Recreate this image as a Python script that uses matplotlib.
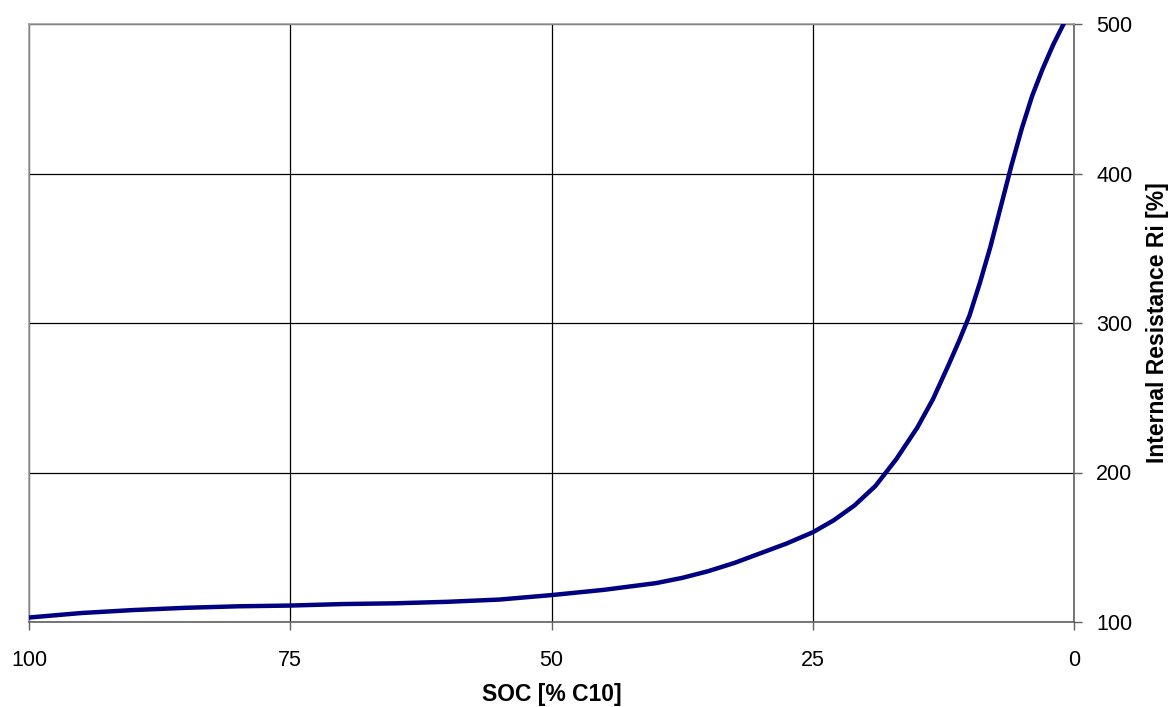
import matplotlib.pyplot as plt

plt.rcParams['font.family'] = ['Liberation Sans', 'DejaVu Sans']

# SOC [% C10] и внутреннее сопротивление Ri [%]
soc = [100, 95, 90, 85, 80, 75, 70, 65, 60, 55, 50, 45, 40, 37.5, 35, 32.5, 30,
       27.5, 25, 23, 21, 19, 17, 15, 13.5, 12, 11, 10, 9, 8, 7, 6, 5, 4, 3, 2,
       1, 0]
ri = [103, 106, 108, 109.5, 110.5, 111, 112, 112.5, 113.5, 115, 118, 121.5,
      126, 129.5, 134, 139.5, 146, 152.5, 160, 168, 178, 191, 209, 230, 249,
      272, 288, 305, 327, 351, 378, 405, 430, 452, 470, 486, 500, 515]

x_ticks = [100, 75, 50, 25, 0]
y_ticks = [100, 200, 300, 400, 500]

fig = plt.figure(figsize=(11.72, 7.07), dpi=100)
ax = fig.add_axes([29 / 1172, 1 - 622 / 707, (1074 - 29) / 1172, (622 - 24) / 707])

ax.plot(soc, ri, color="#000080", linewidth=3.2, solid_joinstyle="round",
        solid_capstyle="round", zorder=3)

ax.set_xlim(100, 0)
ax.set_ylim(100, 500)
ax.set_xticks(x_ticks)
ax.set_yticks(y_ticks)
ax.yaxis.tick_right()
ax.yaxis.set_label_position("right")

ax.grid(True, color="black", linewidth=0.9)
ax.set_axisbelow(True)

for side in ("left", "top"):
    ax.spines[side].set_color("#a0a0a0")
    ax.spines[side].set_linewidth(1.2)
for side in ("right", "bottom"):
    ax.spines[side].set_color("#606060")
    ax.spines[side].set_linewidth(1.2)

ax.tick_params(axis="both", labelsize=15.5, length=6, width=1, color="#606060")
ax.tick_params(axis="x", pad=14)
ax.tick_params(axis="y", pad=10)

ax.set_xlabel("SOC [% C10]", fontsize=16.5, fontweight="bold", labelpad=9)
ax.set_ylabel("Internal Resistance Ri [%]", fontsize=16.5, fontweight="bold", labelpad=10)

fig.savefig("out.png", dpi=100)
